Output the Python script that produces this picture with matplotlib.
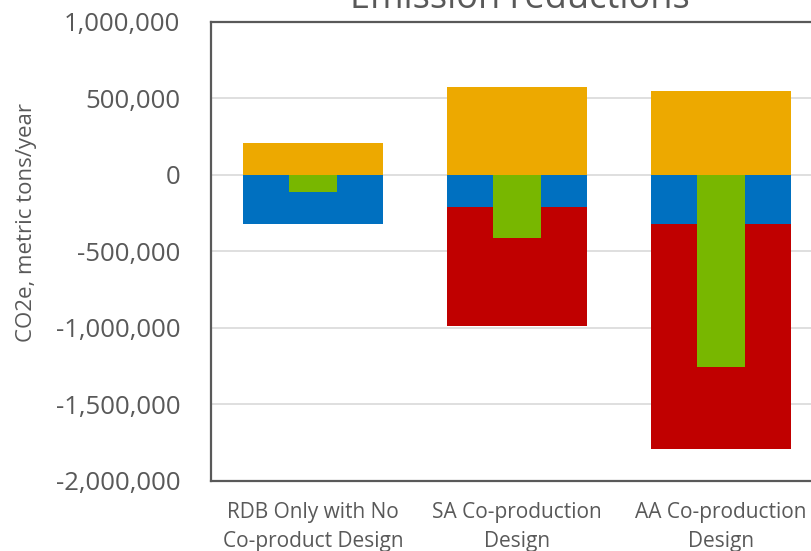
import numpy as np
import matplotlib.pyplot as plt
from matplotlib.ticker import FuncFormatter

plt.rcParams["font.family"] = ["Open Sans", "DejaVu Sans"]

categories = ["RDB Only with No\nCo-product Design",
              "SA Co-production\nDesign",
              "AA Co-production\nDesign"]
increase = [212000, 578000, 552000]        # orange, above zero
reduction_a = [-317000, -206000, -317000]  # blue, first block below zero
reduction_b = [0, -784000, -1477000]       # red, stacked under blue
net = [-108000, -415000, -1252000]         # green, narrow overlay

C_ORANGE = "#EDA900"
C_BLUE = "#0070C0"
C_RED = "#C00000"
C_GREEN = "#78B700"
TXT = "#595959"

fig = plt.figure(figsize=(8.11, 5.51), dpi=100)
ax = fig.add_axes([211 / 811, 70 / 551, 612 / 811, 459 / 551])

x = np.arange(len(categories))
w_wide = 0.686
w_narrow = 0.24

ax.bar(x, increase, w_wide, color=C_ORANGE, zorder=2)
ax.bar(x, reduction_a, w_wide, color=C_BLUE, zorder=2)
ax.bar(x, reduction_b, w_wide, bottom=reduction_a, color=C_RED, zorder=2)
ax.bar(x, net, w_narrow, color=C_GREEN, zorder=3)

ax.set_xlim(-0.5, 2.5)
ax.set_ylim(-2000000, 1000000)
ax.set_yticks(np.arange(-2000000, 1000001, 500000))
ax.yaxis.set_major_formatter(FuncFormatter(lambda v, p: f"{int(v):,}"))
ax.grid(axis="y", color="#D9D9D9", linewidth=1.2, zorder=0)
ax.set_axisbelow(True)

ax.set_xticks(x)
ax.set_xticklabels(categories, fontsize=15, color=TXT, linespacing=1.5)
ax.tick_params(axis="y", length=0, pad=22, labelsize=18.5, labelcolor=TXT)
ax.tick_params(axis="x", length=0, pad=15)

for side in ["left", "top", "bottom"]:
    ax.spines[side].set_color(TXT)
    ax.spines[side].set_linewidth(1.6)
ax.spines["right"].set_visible(False)

# axis title placed in figure coords so it sits at the far left
fig.text(27 / 811, 1 - 222 / 551, "CO2e, metric tons/year", rotation=90,
         fontsize=16, color=TXT, ha="center", va="center")

fig.text(520 / 811, 1 - 8 / 551, "Emission reductions", fontsize=26,
         color=TXT, ha="center", va="baseline")

fig.savefig("out.png", dpi=100)
